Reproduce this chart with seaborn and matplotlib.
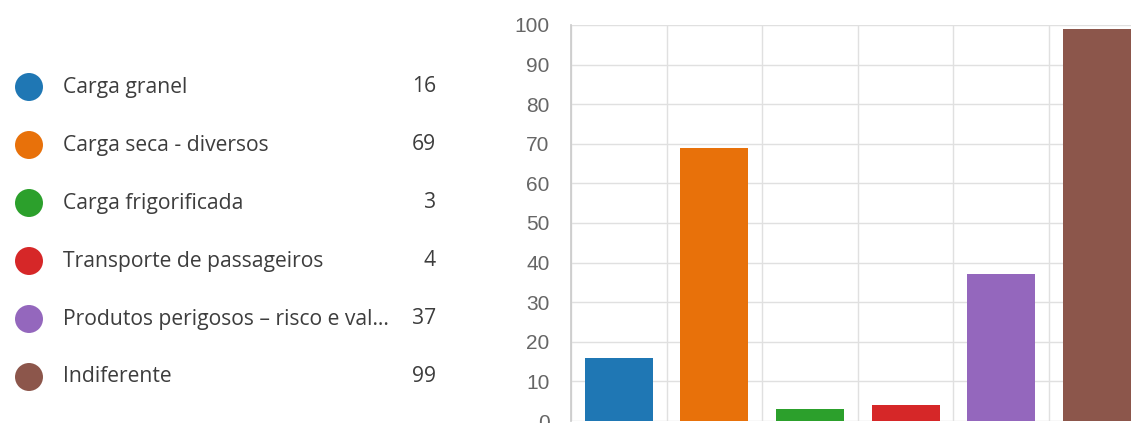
import matplotlib
matplotlib.use("Agg")
import matplotlib.pyplot as plt
import seaborn as sns
import pandas as pd

# Survey answers: cargo type preference
categories = [
    "Carga granel",
    "Carga seca - diversos",
    "Carga frigorificada",
    "Transporte de passageiros",
    "Produtos perigosos – risco e val…",
    "Indiferente",
]
counts = [16, 69, 3, 4, 37, 99]
colors = ["#1f77b4", "#e8710a", "#2ca02c", "#d62728", "#9467bd", "#8c564b"]
y_ticks = list(range(0, 101, 10))

sns.set_theme(style="white")
plt.rcParams["font.family"] = ["Open Sans", "DejaVu Sans"]

W, H = 1131, 423
fig = plt.figure(figsize=(W / 100, H / 100), dpi=100)

df = pd.DataFrame({"category": categories, "count": counts})

# Bar chart on the right; the last column runs slightly past the canvas
ax = fig.add_axes([571 / W, 2 / H, 573.6 / W, 396 / H])
sns.barplot(data=df, x="category", y="count", hue="category",
            palette=colors, legend=False, width=0.71, saturation=1,
            edgecolor="none", ax=ax)
ax.set_xlim(-0.5, len(categories) - 0.5)
ax.set_ylim(0, 100)
ax.set_yticks(y_ticks)
ax.set_yticklabels([str(v) for v in y_ticks], family="Liberation Sans",
                   fontsize=15, color="#666666")
ax.set_xticks([i - 0.5 for i in range(len(categories) + 1)])
ax.set_xticklabels([])
ax.tick_params(axis="x", length=0)
ax.tick_params(axis="y", length=11.5, color="#e0e0e0", width=1, pad=4)
ax.grid(True, axis="both", color="#e0e0e0", linewidth=1)
ax.set_axisbelow(True)
ax.set_xlabel("")
ax.set_ylabel("")
for side in ["top", "right", "bottom"]:
    ax.spines[side].set_visible(False)
ax.spines["left"].set_color("#cccccc")

# Legend with counts on the left
lg = fig.add_axes([0, 0, 1, 1])
lg.set_xlim(0, W)
lg.set_ylim(H, 0)
lg.axis("off")
lg.patch.set_alpha(0)
rows = [87 + 58 * i for i in range(len(categories))]
lg.scatter([29] * len(categories), rows, s=406, c=colors, edgecolors="none")
for y, name, n in zip(rows, categories, counts):
    lg.text(63, y, name, fontsize=15.2, color="#3d3d3d", va="center", ha="left")
    lg.text(436, y, str(n), fontsize=15.2, color="#3d3d3d", va="center", ha="right")

fig.savefig("out.png", dpi=100)
